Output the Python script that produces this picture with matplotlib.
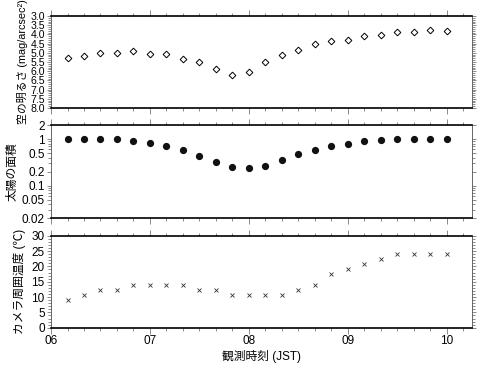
import numpy as np
import matplotlib.pyplot as plt
from matplotlib.ticker import FixedLocator, MultipleLocator, NullFormatter, LogLocator

plt.rcParams['font.family'] = ['Liberation Sans', 'Noto Sans CJK JP', 'DejaVu Sans']

# 観測時刻 (06:10 - 10:00, 10分毎)
times = ["06:10", "06:20", "06:30", "06:40", "06:50", "07:00", "07:10", "07:20",
         "07:30", "07:40", "07:50", "08:00", "08:10", "08:20", "08:30", "08:40",
         "08:50", "09:00", "09:10", "09:20", "09:30", "09:40", "09:50", "10:00"]

# 空の明るさ (mag/arcsec^2)
sky_mag = [5.27, 5.17, 5.03, 4.99, 4.90, 5.05, 5.07, 5.34, 5.50, 5.90, 6.19, 6.06,
           5.52, 5.10, 4.83, 4.52, 4.34, 4.29, 4.07, 4.02, 3.89, 3.85, 3.78, 3.83]

# 太陽の面積
sun_area = [1.0, 1.0, 1.0, 0.98, 0.91, 0.82, 0.69, 0.57, 0.44, 0.325, 0.245, 0.237,
            0.265, 0.354, 0.47, 0.59, 0.69, 0.80, 0.89, 0.96, 1.0, 1.0, 1.0, 1.0]

# カメラ周囲温度 (℃)
temp = [9.0, 10.8, 12.4, 12.4, 14.0, 14.0, 14.0, 14.0, 12.4, 12.4, 10.8, 10.8,
        10.8, 10.8, 12.4, 14.0, 17.5, 19.0, 20.7, 22.4, 24.0, 24.0, 24.0, 24.0]

hour_labels = ["06", "07", "08", "09", "10"]

x = np.array([int(t[:2]) + int(t[3:]) / 60 for t in times])
hours = [int(h) for h in hour_labels]

fig = plt.figure(figsize=(4.83, 3.68), dpi=100)
ax1 = fig.add_axes([0.1056, 0.7065, 0.871, 0.25])
ax2 = fig.add_axes([0.1056, 0.4076, 0.871, 0.2527])
ax3 = fig.add_axes([0.1056, 0.1095, 0.871, 0.25])

ax1.plot(x, sky_mag, 'D', ms=3.4, mfc='white', mec='black', mew=0.7)
ax2.plot(x, sun_area, 'o', ms=4.2, color='#111111')
ax3.plot(x, temp, 'x', ms=3.4, mew=0.6, color='#333333')

for ax in (ax1, ax2, ax3):
    ax.set_xlim(6, 10.25)
    ax.xaxis.set_major_locator(FixedLocator(hours))
    ax.xaxis.set_minor_locator(MultipleLocator(1 / 6))
    ax.tick_params(which='both', direction='out', top=True, right=True,
                   color='#777777', width=0.6, labelsize=8.5, pad=1.5)
    ax.tick_params(which='major', length=4)
    ax.tick_params(which='minor', length=2)
    ax.tick_params(axis='y', which='major', length=3)
    for side in ('top', 'bottom'):
        ax.spines[side].set_linewidth(1.2)
        ax.spines[side].set_color('black')
    for side in ('left', 'right'):
        ax.spines[side].set_linewidth(0.7)
        ax.spines[side].set_color('#666666')
    if ax is not ax3:
        ax.set_xticklabels([])

ax3.set_xticklabels(hour_labels)

ax1.set_ylim(8.0, 3.0)
ax1.yaxis.set_major_locator(MultipleLocator(0.5))
ax1.yaxis.set_minor_locator(MultipleLocator(0.1))
ax1.yaxis.set_major_formatter(plt.FormatStrFormatter('%.1f'))
ax1.tick_params(axis='y', labelsize=7.6, pad=1)
ax1.set_ylabel('空の明るさ (mag/arcsec²)', fontsize=7.8, labelpad=2)

ax2.set_yscale('log')
ax2.set_ylim(0.02, 2)
ticks2 = [0.02, 0.05, 0.1, 0.2, 0.5, 1, 2]
ax2.yaxis.set_major_locator(FixedLocator(ticks2))
ax2.yaxis.set_major_formatter(plt.FixedFormatter(['0.02', '0.05', '0.1', '0.2', '0.5', '1', '2']))
ax2.yaxis.set_minor_locator(LogLocator(subs=np.arange(2, 10), numticks=10))
ax2.yaxis.set_minor_formatter(NullFormatter())
ax2.set_ylabel('太陽の面積', fontsize=8.5, labelpad=2)

ax3.set_ylim(0, 30)
ax3.yaxis.set_major_locator(MultipleLocator(5))
ax3.yaxis.set_minor_locator(MultipleLocator(1))
ax3.set_ylabel('カメラ周囲温度 (℃)', fontsize=8.5, labelpad=4)
ax3.set_xlabel('観測時刻 (JST)', fontsize=8.5, labelpad=2)

fig.savefig('out.png', dpi=100)
